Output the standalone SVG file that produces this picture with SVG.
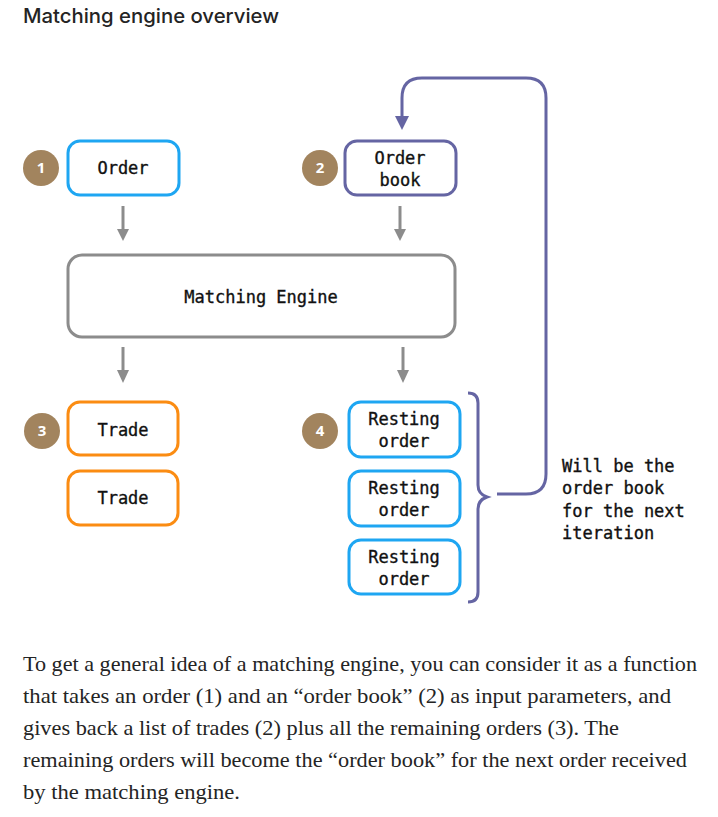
<svg xmlns="http://www.w3.org/2000/svg" width="718" height="817" viewBox="0 0 718 817">
<defs>
<style>
.title{font-family:Inter,"Liberation Sans",sans-serif;font-size:20px;font-weight:500;fill:#242424}
.lbl{font-family:"DejaVu Sans Mono","Liberation Mono",monospace;font-size:17px;fill:#111;stroke:#111;stroke-width:0.35;text-anchor:middle}
.note{font-family:"DejaVu Sans Mono","Liberation Mono",monospace;font-size:17px;fill:#111;stroke:#111;stroke-width:0.35}
.body{font-family:"Liberation Serif","DejaVu Serif",serif;font-size:21px;fill:#242424}
.blue{fill:#fff;stroke:#1ea6f2;stroke-width:3}
.orange{fill:#fff;stroke:#fb8c12;stroke-width:3}
.purple{fill:#fff;stroke:#6565a3;stroke-width:3}
.gray{fill:#fff;stroke:#8c8c8c;stroke-width:3}
.badge{fill:#a2845e}
.btxt{font-family:"Open Sans","Liberation Sans",sans-serif;font-size:15px;font-weight:700;fill:#fff;text-anchor:middle}
.arr{stroke:#8c8c8c;stroke-width:3;fill:none}
.head{fill:#8c8c8c}
.loop{stroke:#6565a3;stroke-width:3;fill:none}
</style>
</defs>
<rect width="718" height="817" fill="#fff"/>
<text class="title" x="23" y="23" textLength="256" lengthAdjust="spacingAndGlyphs">Matching engine overview</text>

<g id="badge1"><circle class="badge" cx="41" cy="168" r="18"/><text class="btxt" x="41" y="173">1</text></g>
<g id="order"><rect class="blue" x="68" y="141" width="111" height="54" rx="12"/><text class="lbl" x="123" y="174">Order</text></g>

<g id="badge2"><circle class="badge" cx="320" cy="168" r="18"/><text class="btxt" x="320" y="173">2</text></g>
<g id="orderbook"><rect class="purple" x="345" y="141" width="111" height="54" rx="12"/><text class="lbl" x="400" y="164">Order</text><text class="lbl" x="400" y="186">book</text></g>

<g id="engine"><rect class="gray" x="68" y="255" width="387" height="82" rx="14"/><text class="lbl" x="261" y="303">Matching Engine</text></g>

<g id="badge3"><circle class="badge" cx="42" cy="431" r="18"/><text class="btxt" x="42" y="436">3</text></g>
<g id="trade1"><rect class="orange" x="68" y="402" width="110" height="53" rx="12"/><text class="lbl" x="123" y="436">Trade</text></g>
<g id="trade2"><rect class="orange" x="68" y="471" width="110" height="54" rx="12"/><text class="lbl" x="123" y="504">Trade</text></g>

<g id="badge4"><circle class="badge" cx="320" cy="431" r="18"/><text class="btxt" x="320" y="436">4</text></g>
<g id="resting1"><rect class="blue" x="349" y="402" width="111" height="55" rx="12"/><text class="lbl" x="404" y="425">Resting</text><text class="lbl" x="404" y="447">order</text></g>
<g id="resting2"><rect class="blue" x="349" y="471" width="111" height="55" rx="12"/><text class="lbl" x="404" y="494">Resting</text><text class="lbl" x="404" y="516">order</text></g>
<g id="resting3"><rect class="blue" x="349" y="540" width="111" height="54" rx="12"/><text class="lbl" x="404" y="563">Resting</text><text class="lbl" x="404" y="585">order</text></g>

<g id="note">
<text class="note" x="562" y="472">Will be the</text>
<text class="note" x="562" y="494">order book</text>
<text class="note" x="562" y="517">for the next</text>
<text class="note" x="562" y="539">iteration</text>
</g>

<g id="connectors">
<line class="arr" x1="123" y1="206" x2="123" y2="231"/><polygon class="head" points="117,229 129,229 123,241"/>
<line class="arr" x1="400" y1="206" x2="400" y2="231"/><polygon class="head" points="394,229 406,229 400,241"/>
<line class="arr" x1="123" y1="347" x2="123" y2="372"/><polygon class="head" points="117,370 129,370 123,383"/>
<line class="arr" x1="403" y1="347" x2="403" y2="372"/><polygon class="head" points="397,370 409,370 403,383"/>
<path class="loop" d="M468,393 Q478,393 478,403 L478,485 Q478,494 487,497 Q478,500 478,509 L478,592 Q478,602 468,602"/>
<path class="loop" d="M497,494 L526,494 Q546,494 546,474 L546,98 Q546,78 526,78 L422,78 Q402,78 402,98 L402,119"/>
<polygon fill="#6565a3" points="395,116 409,116 402,130"/>
</g>

<g id="caption">
<text class="body" x="23" y="671" textLength="674" lengthAdjust="spacingAndGlyphs">To get a general idea of a matching engine, you can consider it as a function</text>
<text class="body" x="23" y="703" textLength="648" lengthAdjust="spacingAndGlyphs">that takes an order (1) and an “order book” (2) as input parameters, and</text>
<text class="body" x="23" y="735" textLength="596" lengthAdjust="spacingAndGlyphs">gives back a list of trades (2) plus all the remaining orders (3). The</text>
<text class="body" x="23" y="767" textLength="664" lengthAdjust="spacingAndGlyphs">remaining orders will become the “order book” for the next order received</text>
<text class="body" x="23" y="799" textLength="217" lengthAdjust="spacingAndGlyphs">by the matching engine.</text>
</g>
</svg>
